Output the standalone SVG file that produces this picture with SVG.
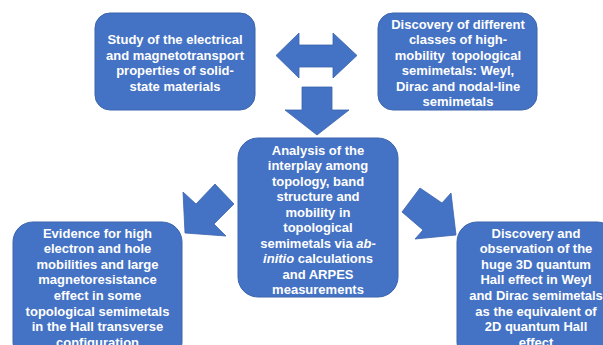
<svg xmlns="http://www.w3.org/2000/svg" width="603" height="345" viewBox="0 0 603 345">
<style>
.box{fill:#4472C4;stroke:#3B64AD;stroke-width:1}
.arr{fill:#4472C4;stroke:#3B64AD;stroke-width:0.8}
text{font-family:"Liberation Sans",Arial,sans-serif;font-weight:bold;font-size:13px;fill:#FFFFFF;text-anchor:middle}
</style>
<rect width="603" height="345" fill="#FFFFFF"/>
<g id="connectors">
<polygon class="arr" points="276,55.5 299,33 299,45 333,45 333,33 357,55.5 333,78 333,67 299,67 299,78"/>
<polygon class="arr" points="302,87 332,87 332,110 349,110 317,135 285,110 302,110"/>
<polygon class="arr" points="183,192 196,204 215,184 234,204 214,224 226,236 185,233"/>
<polygon class="arr" points="402,212 420,188 442,203 451,193 456,235 415,239 423,230"/>
</g>
<g id="node-study">
<rect class="box" x="95" y="13" width="160" height="97" rx="15"/>
<text x="175" y="44">Study of the electrical<tspan x="175" dy="15.5">and magnetotransport</tspan><tspan x="175" dy="15.5">properties of solid-</tspan><tspan x="175" dy="15.5">state materials</tspan></text>
</g>
<g id="node-discovery-classes">
<rect class="box" x="378" y="13" width="159" height="97" rx="15"/>
<text x="458" y="28.5">Discovery of different<tspan x="458" dy="15.5">classes of high-</tspan><tspan x="458" dy="15.5" style="white-space:pre">mobility  topological</tspan><tspan x="458" dy="15.5">semimetals: Weyl,</tspan><tspan x="458" dy="15.5">Dirac and nodal-line</tspan><tspan x="458" dy="15.5">semimetals</tspan></text>
</g>
<g id="node-analysis">
<rect class="box" x="238" y="138" width="160" height="159" rx="20"/>
<text x="318" y="154.5">Analysis of the<tspan x="318" dy="15.5">interplay among</tspan><tspan x="318" dy="15.5">topology, band</tspan><tspan x="318" dy="15.5">structure and</tspan><tspan x="318" dy="15.5">mobility in</tspan><tspan x="318" dy="15.5">topological</tspan><tspan x="318" dy="15.5">semimetals via <tspan font-style="italic">ab-</tspan></tspan><tspan x="318" dy="15.5"><tspan font-style="italic">initio</tspan> calculations</tspan><tspan x="318" dy="15.5">and ARPES</tspan><tspan x="318" dy="15.5">measurements</tspan></text>
</g>
<g id="node-evidence">
<rect class="box" x="13" y="222" width="169" height="140" rx="20"/>
<text x="97.5" y="237.5">Evidence for high<tspan x="97.5" dy="15.6">electron and hole</tspan><tspan x="97.5" dy="15.6">mobilities and large</tspan><tspan x="97.5" dy="15.6">magnetoresistance</tspan><tspan x="97.5" dy="15.6">effect in some</tspan><tspan x="97.5" dy="15.6">topological semimetals</tspan><tspan x="97.5" dy="15.6">in the Hall transverse</tspan><tspan x="97.5" dy="15.6">configuration</tspan></text>
</g>
<g id="node-quantum-hall">
<rect class="box" x="457" y="222" width="160" height="140" rx="20"/>
<text x="536" y="237.5">Discovery and<tspan x="536" dy="15.6">observation of the</tspan><tspan x="536" dy="15.6">huge 3D quantum</tspan><tspan x="536" dy="15.6">Hall effect in Weyl</tspan><tspan x="536" dy="15.6">and Dirac semimetals</tspan><tspan x="536" dy="15.6">as the equivalent of</tspan><tspan x="536" dy="15.6">2D quantum Hall</tspan><tspan x="536" dy="15.6">effect</tspan></text>
</g>
</svg>
